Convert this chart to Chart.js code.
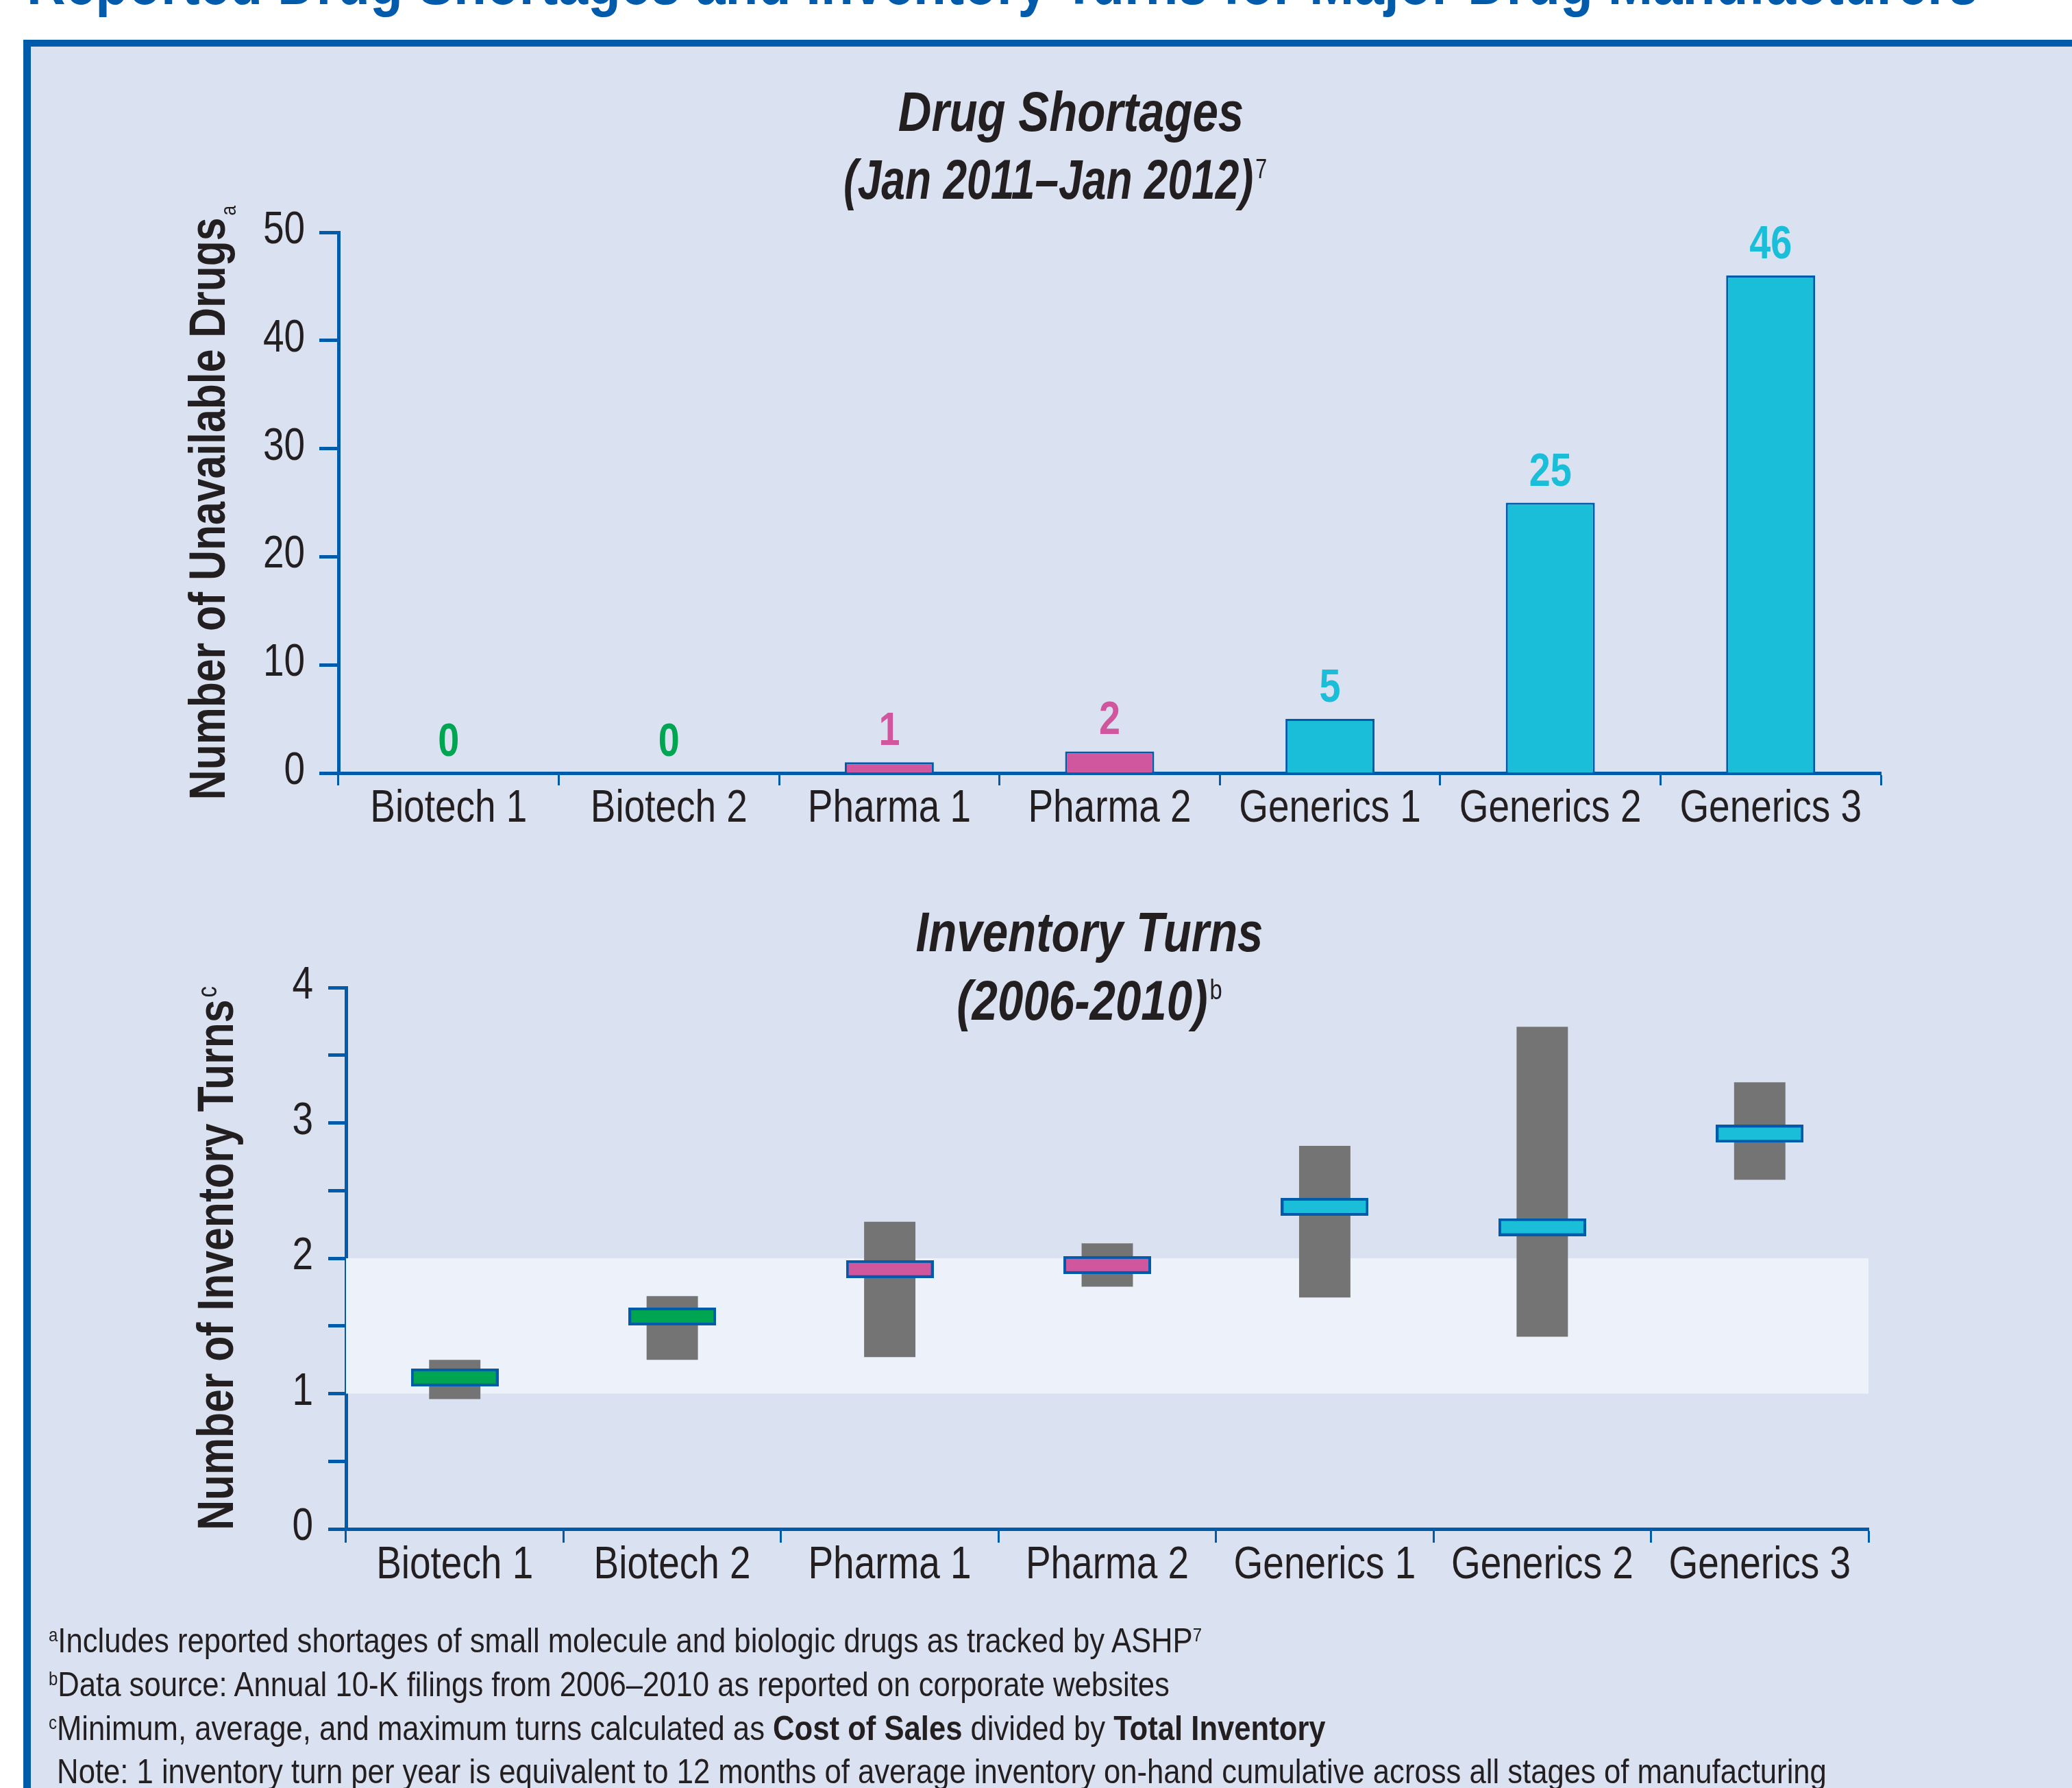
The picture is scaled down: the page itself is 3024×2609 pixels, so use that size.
<!DOCTYPE html>
<html>
<head>
<meta charset="utf-8">
<title>Reported Drug Shortages and Inventory Turns for Major Drug Manufacturers</title>
<script src="https://cdn.jsdelivr.net/npm/chart.js@4.4.1/dist/chart.umd.min.js"></script>
<style>
html, body { margin: 0; padding: 0; }
body {
    position: relative; width: 3024px; height: 2609px; overflow: hidden;
    background: #ffffff; color: #231f20;
    font-family: "Liberation Sans", Arial, sans-serif;
}
#frame {
    position: absolute; left: 34px; top: 58px; width: 3100px; height: 2700px; box-sizing: border-box;
    border-left: 11px solid #005baa; border-top: 10px solid #005baa; background: #dae1f0;
}
#pageTitle {
    position: absolute; left: 39px; top: -71px; line-height: 1; font-size: 91px;
    font-weight: bold; color: #005baa; white-space: nowrap;
}
.squeeze { display: inline-block; transform-origin: 0 0; white-space: nowrap; }
canvas { position: absolute; left: 0; }
#shortageChart { top: 0; }
#turnsChart { top: 1240px; }
.note { position: absolute; left: 71px; font-size: 50px; line-height: 1; white-space: nowrap; }
.note sup { font-size: 0.55em; vertical-align: baseline; position: relative; top: -0.6em; }
</style>
</head>
<body>
<div id="frame"></div>
<div id="pageTitle"><span class="squeeze">Reported Drug Shortages and Inventory Turns for Major Drug Manufacturers</span></div>
<canvas id="shortageChart" width="3024" height="1240"></canvas>
<canvas id="turnsChart" width="3024" height="1369"></canvas>
<div class="note" style="top:2369px"><span class="squeeze"><sup>a</sup>Includes reported shortages of small molecule and biologic drugs as tracked by ASHP<sup>7</sup></span></div>
<div class="note" style="top:2433px"><span class="squeeze"><sup>b</sup>Data source: Annual 10-K filings from 2006–2010 as reported on corporate websites</span></div>
<div class="note" style="top:2497px"><span class="squeeze"><sup>c</sup>Minimum, average, and maximum turns calculated as <b>Cost of Sales</b> divided by <b>Total Inventory</b></span></div>
<div class="note" style="top:2560px"><span class="squeeze" id="lastNote">&nbsp;Note: 1 inventory turn per year is equivalent to 12 months of average inventory on-hand cumulative across all stages of manufacturing</span></div>
<script>
"use strict";

// data
var categories = ['Biotech 1', 'Biotech 2', 'Pharma 1', 'Pharma 2', 'Generics 1', 'Generics 2', 'Generics 3'];
var companyTypes = ['biotech', 'biotech', 'pharma', 'pharma', 'generics', 'generics', 'generics'];
var shortages = [0, 0, 1, 2, 5, 25, 46];
var shortageTicks = [0, 10, 20, 30, 40, 50];

var turnsMin = [0.96, 1.25, 1.27, 1.79, 1.71, 1.42, 2.58];
var turnsAvg = [1.12, 1.57, 1.92, 1.95, 2.38, 2.23, 2.92];
var turnsMax = [1.25, 1.72, 2.27, 2.11, 2.83, 3.71, 3.30];
var turnsTickMarks = [0, 0.5, 1, 1.5, 2, 2.5, 3, 3.5, 4];
var turnsTicks = [0, 1, 2, 3, 4];
var targetBand = [1, 2];

// no condensed face is installed, so text is squeezed horizontally
var FONT = "'Liberation Sans', Arial, sans-serif";
var SQUEEZE = 0.82;
var BLUE = '#005baa';
var TEXT = '#231f20';
var GRAY = '#747474';
var BAND = '#edf1f9';
var typeColors = { biotech: '#00a551', pharma: '#d0579e', generics: '#1bbed9' };

function colorOf(i) {
    return typeColors[companyTypes[i]];
}

function squeezed(ctx, text, x, y, align, k) {
    ctx.save();
    ctx.translate(x, y);
    ctx.scale(k || SQUEEZE, 1);
    ctx.textAlign = align;
    ctx.textBaseline = 'alphabetic';
    ctx.fillText(text, 0, 0);
    ctx.restore();
}

// text plus a small note mark, alphabetic baseline at y, centred on x
function drawNoted(ctx, t, x, y, style, size, supSize) {
    var k = t.squeeze || SQUEEZE;
    ctx.font = style + ' ' + size + 'px ' + FONT;
    var w = ctx.measureText(t.text).width * k;
    var sw = 0;
    if (t.sup) {
        ctx.font = supSize + 'px ' + FONT;
        sw = ctx.measureText(t.sup).width * k + 3;
    }
    var start = x - (w + sw) / 2;
    ctx.font = style + ' ' + size + 'px ' + FONT;
    squeezed(ctx, t.text, start, y, 'left', k);
    if (t.sup) {
        var supY = t.supDrop !== undefined ? y + t.supDrop : y - 0.716 * (size - supSize);
        ctx.font = supSize + 'px ' + FONT;
        squeezed(ctx, t.sup, start + w + 3, supY, 'left', k);
    }
}

var panelText = {
    id: 'panelText',
    afterDraw: function(chart, args, opts) {
        var ctx = chart.ctx;
        var area = chart.chartArea;
        var xs = chart.scales.x;
        var ys = chart.scales.y;
        ctx.save();
        ctx.fillStyle = TEXT;
        opts.titles.forEach(function(t) {
            drawNoted(ctx, t, t.x, t.y, 'italic bold', 82, 40);
        });

        // tick labels
        ctx.font = '67px ' + FONT;
        xs.ticks.forEach(function(t, i) {
            squeezed(ctx, categories[i], xs.getPixelForTick(i), xs.top + opts.xLabelDrop, 'center');
        });
        ys.ticks.forEach(function(t) {
            if (opts.yLabels.indexOf(t.value) < 0) return;
            squeezed(ctx, String(t.value), area.left - opts.yLabelGap, ys.getPixelForValue(t.value) + 16, 'right');
        });

        ctx.translate(opts.yTitle.x, (area.top + area.bottom) / 2);
        ctx.rotate(-Math.PI / 2);
        drawNoted(ctx, opts.yTitle, 0, 0, 'bold', 74, opts.yTitle.supSize || 40);
        ctx.restore();
    }
};

var valueLabels = {
    id: 'valueLabels',
    afterDatasetsDraw: function(chart, args, opts) {
        if (!opts.show) return;
        var ctx = chart.ctx;
        var meta = chart.getDatasetMeta(0);
        ctx.save();
        ctx.font = 'bold 68px ' + FONT;
        meta.data.forEach(function(bar, i) {
            ctx.fillStyle = colorOf(i);
            squeezed(ctx, String(shortages[i]), bar.x, bar.y - 25, 'center');
        });
        ctx.restore();
    }
};

var bandPlugin = {
    id: 'band',
    beforeDatasetsDraw: function(chart, args, opts) {
        if (!opts.show) return;
        var y = chart.scales.y;
        var area = chart.chartArea;
        var top = y.getPixelForValue(targetBand[1]);
        var bottom = y.getPixelForValue(targetBand[0]);
        chart.ctx.save();
        chart.ctx.fillStyle = BAND;
        chart.ctx.fillRect(area.left, top, area.right - area.left, bottom - top);
        chart.ctx.restore();
    }
};

function makeMarker(fill) {
    var c = document.createElement('canvas');
    c.width = 128;
    c.height = 26;
    var g = c.getContext('2d');
    g.fillStyle = BLUE;
    g.fillRect(0, 0, 128, 26);
    g.fillStyle = fill;
    g.fillRect(4, 4, 120, 18);
    return c;
}

function xScale(tickLength) {
    return {
        z: 1,
        grid: { drawOnChartArea: false, drawTicks: true, tickLength: tickLength, tickWidth: 3, tickColor: BLUE, offset: true },
        border: { display: true, width: 5, color: BLUE },
        ticks: { display: false, autoSkip: false },
        afterFit: function(scale) { scale.height = 100; }
    };
}

function yScale(max, marks, tickLength) {
    return {
        z: 1,
        min: 0,
        max: max,
        grid: { drawOnChartArea: false, drawTicks: true, tickLength: tickLength, tickWidth: 5, tickColor: BLUE },
        border: { display: true, width: 5, color: BLUE },
        ticks: { display: false },
        afterBuildTicks: function(scale) {
            scale.ticks = marks.map(function(v) { return { value: v }; });
        },
        afterFit: function(scale) { scale.width = 150; }
    };
}

var charts = [];
function createChart(element, options) {
    var chart = new Chart(element, options);
    charts.push(chart);
    return chart;
}

createChart(document.getElementById('shortageChart'), {
    type: 'bar',
    data: {
        labels: categories,
        datasets: [{
            data: shortages,
            backgroundColor: categories.map(function(c, i) { return colorOf(i); }),
            borderColor: BLUE,
            borderWidth: function(ctx) { return ctx.raw === 0 ? 0 : 3; },
            borderSkipped: 'bottom',
            barPercentage: 0.404,
            categoryPercentage: 1
        }]
    },
    options: {
        responsive: false,
        animation: false,
        devicePixelRatio: 1,
        layout: { padding: { left: 344, right: 279, top: 339, bottom: 12 } },
        plugins: {
            legend: { display: false },
            tooltip: { enabled: false },
            valueLabels: { show: true },
            band: { show: false },
            panelText: {
                titles: [
                    { text: 'Drug Shortages', x: 1563, y: 191 },
                    { text: '(Jan 2011–Jan 2012)', sup: '7', x: 1540, y: 290, squeeze: 0.76 }
                ],
                yTitle: { text: 'Number of Unavailable Drugs', sup: 'a', x: 328, supDrop: 16, supSize: 32 },
                yLabels: shortageTicks,
                yLabelGap: 49,
                xLabelDrop: 71
            }
        },
        scales: {
            x: xScale(18),
            y: yScale(50, shortageTicks, 28)
        }
    },
    plugins: [valueLabels, bandPlugin, panelText]
});

var markers = {
    biotech: makeMarker(typeColors.biotech),
    pharma: makeMarker(typeColors.pharma),
    generics: makeMarker(typeColors.generics)
};

createChart(document.getElementById('turnsChart'), {
    type: 'bar',
    data: {
        labels: categories,
        datasets: [{
            type: 'line',
            data: turnsAvg,
            showLine: false,
            pointStyle: companyTypes.map(function(t) { return markers[t]; }),
            pointRadius: 12,
            order: 0
        }, {
            type: 'bar',
            data: categories.map(function(c, i) { return [turnsMin[i], turnsMax[i]]; }),
            backgroundColor: GRAY,
            borderWidth: 0,
            barPercentage: 0.236,
            categoryPercentage: 1,
            order: 1
        }]
    },
    options: {
        responsive: false,
        animation: false,
        devicePixelRatio: 1,
        layout: { padding: { left: 355, right: 297, top: 201, bottom: 278 } },
        plugins: {
            legend: { display: false },
            tooltip: { enabled: false },
            valueLabels: { show: false },
            band: { show: true },
            panelText: {
                titles: [
                    { text: 'Inventory Turns', x: 1590, y: 148 },
                    { text: '(2006-2010)', sup: 'b', x: 1590, y: 248 }
                ],
                yTitle: { text: 'Number of Inventory Turns', sup: 'c', x: 340 },
                yLabels: turnsTicks,
                yLabelGap: 48,
                xLabelDrop: 72
            }
        },
        scales: {
            x: xScale(20),
            y: yScale(4, turnsTickMarks, 26)
        }
    },
    plugins: [valueLabels, bandPlugin, panelText]
});

// cut-off page heading: squeezed to the reference width, baseline just below the top edge
var heading = document.querySelector('#pageTitle .squeeze');
heading.style.transform = 'scaleX(' + (2848 / heading.offsetWidth) + ')';
document.getElementById('pageTitle').style.top = (6 - 0.8465 * 91) + 'px';

// notes: same squeeze for every line, taken from the longest one
var lastNote = document.getElementById('lastNote');
var noteSqueeze = 2595 / lastNote.offsetWidth;
document.querySelectorAll('.note .squeeze').forEach(function(el) {
    el.style.transform = 'scaleX(' + noteSqueeze + ')';
});
</script>
</body>
</html>
